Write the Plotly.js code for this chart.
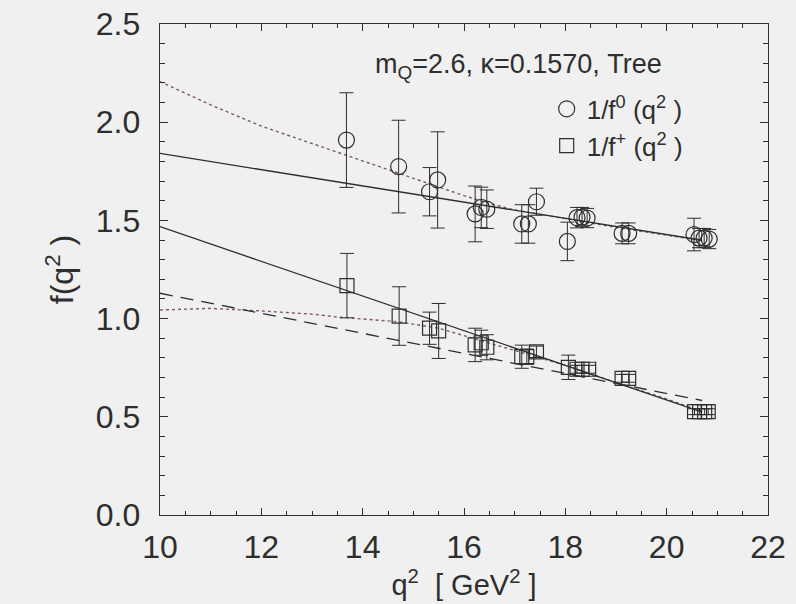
<!DOCTYPE html>
<html>
<head>
<meta charset="utf-8">
<script src="https://cdn.plot.ly/plotly-3.0.1.min.js"></script>
<style>
  html, body { margin: 0; padding: 0; background: #f0f0f0; }
  #chart { width: 796px; height: 604px; }
</style>
</head>
<body>
<div id="chart"></div>
<script>
// 1/f0(q^2) lattice points
const q2Zero  = [13.68, 14.71, 15.32, 15.48, 16.22, 16.34, 16.45, 17.14, 17.27, 17.43, 18.04, 18.23, 18.33, 18.43, 19.12, 19.25, 20.54, 20.64, 20.74, 20.84];
const invZero = [1.909, 1.774, 1.646, 1.706, 1.533, 1.566, 1.557, 1.482, 1.482, 1.595, 1.393, 1.514, 1.517, 1.512, 1.434, 1.434, 1.428, 1.410, 1.410, 1.405];
const errZero = [0.241, 0.236, 0.123, 0.245, 0.142, 0.103, 0.098, 0.098, 0.098, 0.069, 0.098, 0.052, 0.049, 0.049, 0.053, 0.053, 0.083, 0.049, 0.049, 0.049];

// 1/f+(q^2) lattice points
const q2Plus  = [13.69, 14.72, 15.32, 15.50, 16.22, 16.34, 16.45, 17.14, 17.24, 17.43, 18.06, 18.23, 18.33, 18.46, 19.12, 19.25, 20.55, 20.65, 20.75, 20.82];
const invPlus = [1.168, 1.013, 0.951, 0.937, 0.866, 0.877, 0.854, 0.806, 0.806, 0.831, 0.752, 0.742, 0.742, 0.742, 0.696, 0.696, 0.526, 0.526, 0.526, 0.526];
const errPlus = [0.164, 0.149, 0.082, 0.140, 0.085, 0.064, 0.064, 0.059, 0.039, 0.029, 0.062, 0.020, 0.020, 0.020, 0.020, 0.020, 0.015, 0.015, 0.015, 0.015];

// fit curves
const fitZeroLinX = [10, 20.7];
const fitZeroLinY = [1.841, 1.399];
const fitZeroCurX = [10, 11, 12, 13, 14, 15, 16, 16.5, 17, 18, 19, 20, 20.7];
const fitZeroCurY = [2.206, 2.088, 1.980, 1.891, 1.803, 1.715, 1.626, 1.587, 1.553, 1.509, 1.464, 1.425, 1.396];

const fitPlusLinX = [10, 20.7];
const fitPlusLinY = [1.468, 0.524];
const fitPlusDashX = [10, 20.7];
const fitPlusDashY = [1.129, 0.583];
const fitPlusCurX = [10, 11, 12, 13, 13.5, 14.7, 15.5, 16.3, 17, 17.5, 18, 19, 20, 20.7];
const fitPlusCurY = [1.044, 1.052, 1.039, 1.023, 1.008, 0.984, 0.951, 0.891, 0.840, 0.802, 0.762, 0.674, 0.591, 0.527];

const ink = '#2e2e2e';
const dotInk = '#7a5876';
const font = 'Liberation Sans, Arial, Helvetica, sans-serif';

const traces = [
  { x: fitZeroCurX, y: fitZeroCurY, mode: 'lines', line: { color: dotInk, width: 1.4, dash: 'dot' }, showlegend: false, hoverinfo: 'skip' },
  { x: fitZeroLinX, y: fitZeroLinY, mode: 'lines', line: { color: ink, width: 1.3 }, showlegend: false, hoverinfo: 'skip' },
  { x: fitPlusCurX, y: fitPlusCurY, mode: 'lines', line: { color: dotInk, width: 1.4, dash: 'dot' }, showlegend: false, hoverinfo: 'skip' },
  { x: fitPlusLinX, y: fitPlusLinY, mode: 'lines', line: { color: ink, width: 1.3 }, showlegend: false, hoverinfo: 'skip' },
  { x: fitPlusDashX, y: fitPlusDashY, mode: 'lines', line: { color: ink, width: 1.3, dash: '13px,8px' }, showlegend: false, hoverinfo: 'skip' },
  {
    x: q2Zero, y: invZero, mode: 'markers', name: '1/f<sup>0</sup> (q<sup>2</sup> )',
    marker: { symbol: 'circle-open', size: 16, color: ink, line: { width: 1.2, color: ink } },
    error_y: { type: 'data', array: errZero, visible: true, color: ink, thickness: 1, width: 7 }
  },
  {
    x: q2Plus, y: invPlus, mode: 'markers', name: '1/f<sup>+</sup> (q<sup>2</sup> )',
    marker: { symbol: 'square-open', size: 14, color: ink, line: { width: 1.2, color: ink } },
    error_y: { type: 'data', array: errPlus, visible: true, color: ink, thickness: 1, width: 7 }
  }
];

const axisCommon = {
  showgrid: false, zeroline: false,
  showline: true, linecolor: ink, linewidth: 1.4, mirror: 'allticks',
  ticks: 'inside', tickcolor: ink, tickwidth: 1,
  tickfont: { family: font, size: 32, color: ink },
  automargin: false
};

const layout = {
  width: 796, height: 604,
  paper_bgcolor: '#f0f0f0', plot_bgcolor: '#f0f0f0',
  margin: { l: 159.5, r: 28, t: 24, b: 89 },
  font: { family: font, color: ink },
  xaxis: Object.assign({}, axisCommon, {
    range: [10, 22], dtick: 2, tick0: 10, ticklen: 7,
    minor: { dtick: 0.5, ticklen: 4, tickcolor: ink, ticks: 'inside' },
    ticklabelstandoff: 3,
    title: { text: 'q<sup>2</sup>&nbsp; [ GeV<sup>2</sup> ]', font: { family: font, size: 29, color: ink }, standoff: 0 }
  }),
  yaxis: Object.assign({}, axisCommon, {
    range: [0, 2.5], dtick: 0.5, tick0: 0, ticklen: 8, tickformat: '.1f',
    minor: { dtick: 0.1, ticklen: 5, tickcolor: ink, ticks: 'inside' },
    ticklabelstandoff: 12,
    title: { text: 'f(q<sup>2</sup> )', font: { family: font, size: 32, color: ink }, standoff: 12 }
  }),
  legend: {
    x: 0.636, y: 0.875, xanchor: 'left', yanchor: 'top',
    bgcolor: 'rgba(0,0,0,0)', font: { family: font, size: 26, color: ink },
    tracegroupgap: 0
  },
  annotations: [{
    xref: 'paper', yref: 'paper', x: 0.35, y: 0.915, xanchor: 'left', yanchor: 'middle',
    text: 'm<sub>Q</sub>=2.6, κ=0.1570, Tree', showarrow: false,
    font: { family: font, size: 27, color: ink }
  }]
};

Plotly.newPlot('chart', traces, layout, { staticPlot: true });
</script>
</body>
</html>
